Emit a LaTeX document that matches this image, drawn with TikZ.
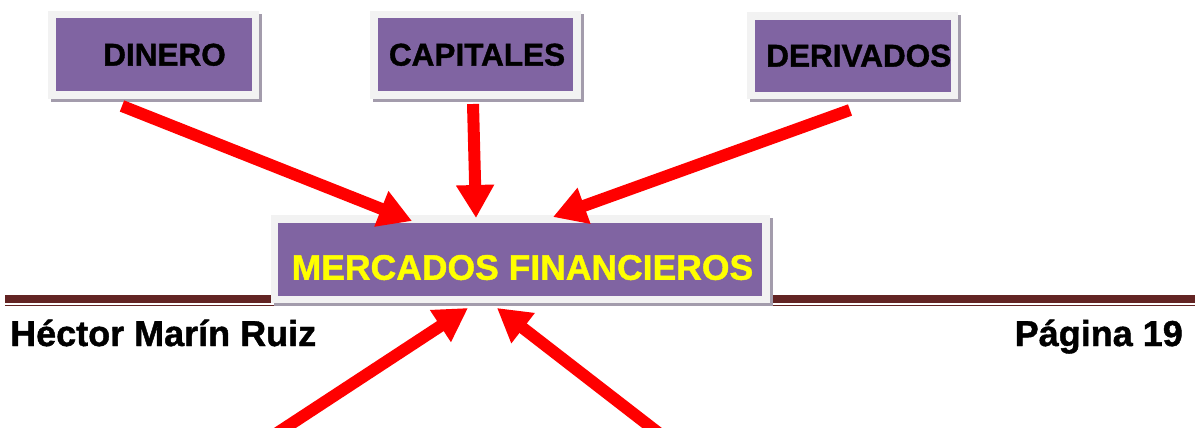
\documentclass[tikz,border=0pt]{standalone}
\usepackage{fontspec}
\setmainfont{Liberation Sans}
\newfontfamily\heavyfont{Liberation Sans Bold}[FakeBold=1.2]
\usetikzlibrary{arrows.meta}
\definecolor{boxpurple}{HTML}{8064A2}
\definecolor{framegray}{HTML}{F2F2F2}
\definecolor{shadowgray}{HTML}{A39CAC}
\definecolor{footerred}{HTML}{632423}
\definecolor{arrowred}{HTML}{FF0000}
\definecolor{textyellow}{HTML}{FFFF00}
\tikzset{
  box/.style={rectangle, fill=boxpurple, draw=framegray, line width=7.5pt,
    inner sep=0pt, outer sep=0pt,
    preaction={draw=shadowgray, fill=shadowgray, transform canvas={xshift=3pt,yshift=-3pt}},
    font=\fontsize{31.5}{31.5}\selectfont\heavyfont, text=black},
  bigbox/.style={box, font=\fontsize{35.5}{35.5}\selectfont\heavyfont, text=textyellow,
    text height=45pt, text depth=4pt},
  redarrow/.style={draw=arrowred, line width=12pt,
    -{Triangle[width=36pt,length=33pt]}},
  footertext/.style={inner sep=0pt, font=\fontsize{36}{36}\selectfont\heavyfont, text=black},
  footerline/.style={draw=footerred}
}
\begin{document}
\begin{tikzpicture}[x=1pt,y=-1pt]
\clip (0,0) rectangle (1195,428);
\useasboundingbox (0,0) rectangle (1195,428);
% footer rule
\draw[footerline, line width=7.7pt] (5,298.8) -- (1195,298.8);
\draw[footerline, line width=1.6pt] (5,305.3) -- (1195,305.3);
% boxes
\node[box, minimum width=203.5pt, minimum height=80.5pt] (din) at (153.75,54.75) {\hspace*{21.5pt}DINERO};
\node[box, minimum width=203pt, minimum height=80.5pt] (cap) at (475.5,54.75) {\hspace*{3pt}CAPITALES};
\node[box, minimum width=203.5pt, minimum height=79.5pt] (der) at (852.75,55.75) {\hspace*{12pt}DERIVADOS};
\node[bigbox, minimum width=491.5pt, minimum height=80.5pt] (mer) at (520.25,259.25) {\hspace*{4.5pt}MERCADOS FINANCIEROS};
% footer text
\node[footertext, anchor=base west] (author) at (10,346) {Héctor Marín Ruiz};
\node[footertext, anchor=base east] (page) at (1183,346) {Página 19};
% arrows
\draw[redarrow] ([shift={(70,11)}]din.south west) -- ([shift={(137.5,2)}]mer.north west);
\draw[redarrow] ([shift={(-2.5,9)}]cap.south) -- ([shift={(201.5,-1)}]mer.north west);
\draw[redarrow] ([shift={(-2.75,14.5)}]der.south) -- ([shift={(278.5,-2)}]mer.north west);
\coordinate (bl) at (269.6,438);
\coordinate (br) at (665,438);
\draw[redarrow] (bl) -- ([shift={(193.5,8.5)}]mer.south west);
\draw[redarrow] (br) -- ([shift={(222.5,8.5)}]mer.south west);
\end{tikzpicture}
\end{document}
